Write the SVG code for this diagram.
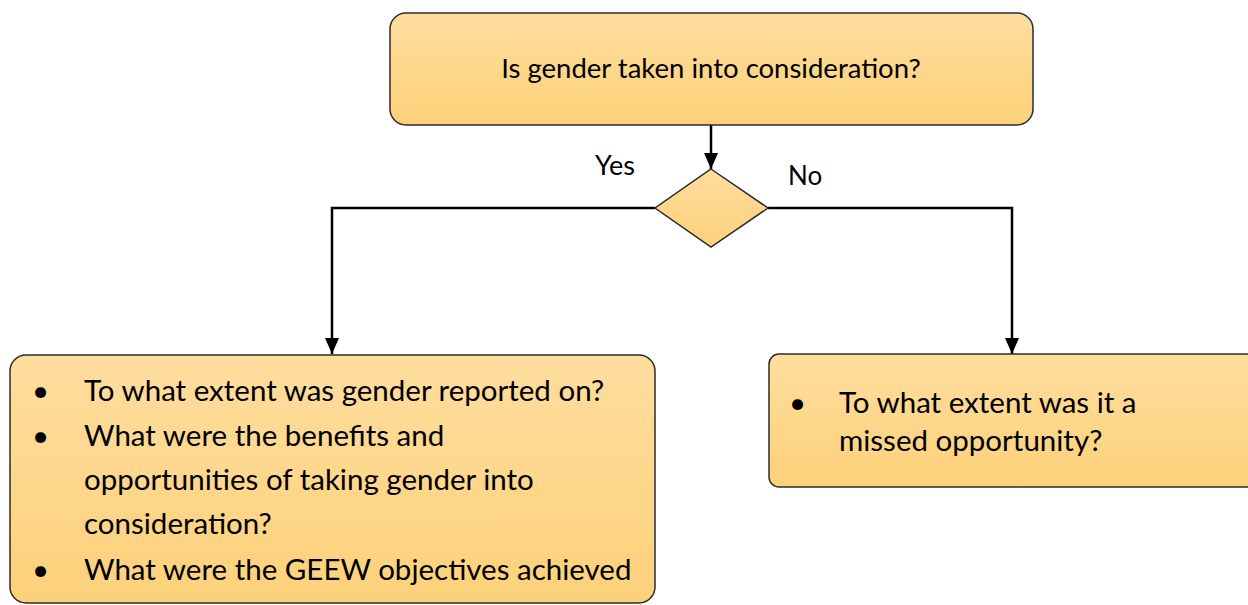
<svg xmlns="http://www.w3.org/2000/svg" width="1248" height="605" viewBox="0 0 1248 605">
<style>
.box{stroke:#2b2b2b;stroke-width:1.5;fill:url(#g)}
.t{font-family:Lato,"Open Sans","Liberation Sans",sans-serif;fill:#000}
.conn{fill:none;stroke:#000;stroke-width:2.5}
</style>
<defs>
<linearGradient id="g" x1="0" y1="0" x2="0" y2="1">
<stop offset="0" stop-color="#fedd9e"/>
<stop offset="1" stop-color="#fdd17a"/>
</linearGradient>
<marker id="ah" markerWidth="16" markerHeight="16" refX="16" refY="7" orient="auto" markerUnits="userSpaceOnUse" viewBox="0 0 16 14">
<path d="M0,0 L16,7 L0,14 z" fill="#000"/>
</marker>
</defs>
<g id="connectors">
<line class="conn" x1="711" y1="125" x2="711" y2="169" marker-end="url(#ah)"/>
<polyline class="conn" points="655,208 332,208 332,354" marker-end="url(#ah)"/>
<polyline class="conn" points="768,208 1012,208 1012,354" marker-end="url(#ah)"/>
<text class="t" x="595" y="175" font-size="27">Yes</text>
<text class="t" x="788" y="185" font-size="26">No</text>
</g>
<g id="top">
<rect class="box" x="390" y="13" width="643" height="112" rx="16"/>
<text class="t" x="711" y="78" font-size="27.5" text-anchor="middle">Is gender taken into consideration?</text>
</g>
<g id="decision">
<polygon class="box" points="711,169 768,208 711,247 655,208"/>
</g>
<g id="yesbox">
<rect class="box" x="10" y="355" width="645" height="248" rx="16"/>
<g class="t" font-size="29.5">
<text x="32" y="401">•</text>
<text x="84" y="401">To what extent was gender reported on?</text>
<text x="32" y="446">•</text>
<text x="84" y="446">What were the benefits and</text>
<text x="84" y="490">opportunities of taking gender into</text>
<text x="84" y="534">consideration?</text>
<text x="32" y="580">•</text>
<text x="84" y="580">What were the GEEW objectives achieved</text>
</g>
</g>
<g id="nobox">
<rect class="box" x="769" y="354" width="500" height="133" rx="10"/>
<g class="t" font-size="29.5">
<text x="789" y="413">•</text>
<text x="839" y="413">To what extent was it a</text>
<text x="839" y="451">missed opportunity?</text>
</g>
</g>
</svg>
